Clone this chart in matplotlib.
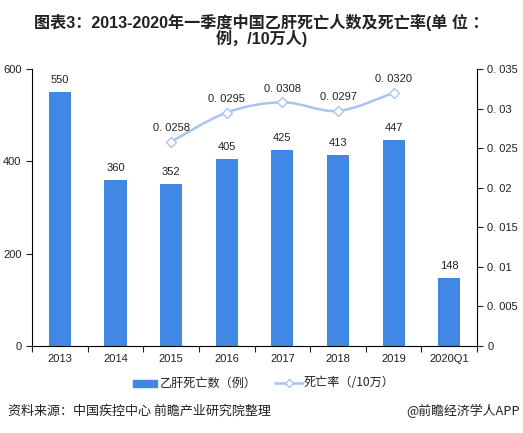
import matplotlib

matplotlib.use("Agg")

import matplotlib.pyplot as plt
from matplotlib.path import Path
from matplotlib.patches import PathPatch

plt.rcParams["font.family"] = ["Liberation Sans", "Noto Sans CJK SC", "DejaVu Sans"]

years = ["2013", "2014", "2015", "2016", "2017", "2018", "2019", "2020Q1"]
deaths = [550, 360, 352, 405, 425, 413, 447, 148]
rate_years = ["2015", "2016", "2017", "2018", "2019"]
rates = [0.0258, 0.0295, 0.0308, 0.0297, 0.0320]
rate_ticks = [0, 0.005, 0.01, 0.015, 0.02, 0.025, 0.03, 0.035]

bar_color = "#4187E4"
line_color = "#A8C4F0"
text_color = "#222222"
cjk = ["Noto Sans CJK SC", "DejaVu Sans"]

fig = plt.figure(figsize=(5.23, 4.33), dpi=100)
ax = fig.add_axes([0.0612, 0.2009, 0.851, 0.6397])
ax2 = ax.twinx()

x = list(range(len(years)))
ax.bar(x, deaths, width=0.4, color=bar_color, zorder=2)
for xi, v in zip(x, deaths):
    ax.text(xi, v + 15, str(v), ha="center", va="bottom", fontsize=8, color=text_color)

# smooth curve through the rate points (Catmull-Rom as cubic Bezier)
rx = [years.index(y) for y in rate_years]
pts = list(zip(rx, rates))
verts = [pts[0]]
codes = [Path.MOVETO]
for i in range(len(pts) - 1):
    p0 = pts[i - 1] if i > 0 else pts[i]
    p1, p2 = pts[i], pts[i + 1]
    p3 = pts[i + 2] if i + 2 < len(pts) else pts[i + 1]
    t = 1 / 6
    c1 = (p1[0] + (p2[0] - p0[0]) * t, p1[1] + (p2[1] - p0[1]) * t)
    c2 = (p2[0] - (p3[0] - p1[0]) * t, p2[1] - (p3[1] - p1[1]) * t)
    verts += [c1, c2, p2]
    codes += [Path.CURVE4] * 3
ax2.add_patch(PathPatch(Path(verts, codes), facecolor="none", edgecolor=line_color,
                        linewidth=1.8, zorder=3))
ax2.plot(rx, rates, linestyle="none", marker="D", markersize=5,
         markerfacecolor="white", markeredgecolor=line_color, markeredgewidth=1.0, zorder=4)
for xi, v in zip(rx, rates):
    ax2.text(xi, v + 0.0011, f"{v:.4f}".replace(".", ". "), ha="center", va="bottom",
             fontsize=8, color=text_color)

ax.set_xlim(-0.5, len(years) - 0.5)
ax.set_ylim(0, 600)
ax.set_yticks([0, 200, 400, 600])
ax2.set_ylim(0, 0.035)
ax2.set_yticks(rate_ticks)
ax2.set_yticklabels(["0" if t == 0 else f"{t:g}".replace(".", ". ") for t in rate_ticks])
ax.set_xticks(x)
ax.set_xticklabels(years)
ax.set_xticks([i - 0.5 for i in range(len(years) + 1)], minor=True)

for a in (ax, ax2):
    a.spines["top"].set_visible(False)
    a.tick_params(labelsize=8, colors=text_color, length=4, width=0.8)
ax.spines["right"].set_visible(False)
ax2.spines["left"].set_visible(False)
ax2.spines["bottom"].set_visible(False)
ax.tick_params(axis="x", which="major", length=0, pad=6)
ax.tick_params(axis="x", which="minor", length=4, width=0.8, color=text_color)

fig.text(0.5, 0.968, "图表3：2013-2020年一季度中国乙肝死亡人数及死亡率(单 位 ：\n例，/10万人)",
         ha="center", va="top", fontsize=11.6, fontweight="bold", color=text_color,
         linespacing=0.95, family=["Liberation Sans", "Noto Sans CJK SC"])

# legend drawn by hand to match spacing
fig.patches.append(plt.Rectangle((133 / 523, 1 - 387 / 433), 24 / 523, 7 / 433,
                                 transform=fig.transFigure, color=bar_color))
fig.text(160 / 523, 1 - 383 / 433, "乙肝死亡数（例）", ha="left", va="center", fontsize=8.7,
         color=text_color, family=cjk)
fig.lines.append(plt.Line2D([275 / 523, 302 / 523], [1 - 383 / 433] * 2, transform=fig.transFigure,
                            color=line_color, linewidth=1.8))
fig.lines.append(plt.Line2D([288.5 / 523], [1 - 383 / 433], transform=fig.transFigure,
                            color=line_color, marker="D", markersize=4.5, markerfacecolor="white",
                            markeredgecolor=line_color, linestyle="none"))
fig.text(304 / 523, 1 - 383 / 433, "死亡率（/10万）", ha="left", va="center", fontsize=8.7,
         color=text_color, family=cjk)

fig.text(8 / 523, 1 - 411 / 433, "资料来源：中国疾控中心 前瞻产业研究院整理", ha="left", va="center",
         fontsize=9.4, color=text_color, family=cjk)
fig.text(520 / 523, 1 - 411 / 433, "@前瞻经济学人APP", ha="right", va="center",
         fontsize=9.3, color=text_color, family=cjk)

fig.savefig("out.png", dpi=100)
plt.close(fig)
